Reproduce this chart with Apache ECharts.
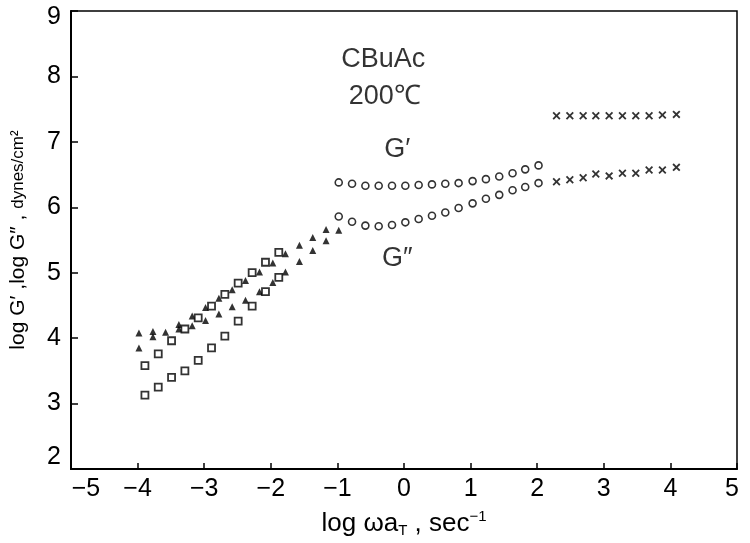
<!DOCTYPE html>
<html>
<head>
<meta charset="utf-8">
<script src="https://cdn.jsdelivr.net/npm/echarts@6/dist/echarts.min.js"></script>
<style>html,body{margin:0;padding:0;background:#fff}#c{width:750px;height:543px}</style>
</head>
<body>
<div id="c"></div>
<script>
// ---- data (log ωaT, log G) ----
const xTicks = [-5, -4, -3, -2, -1, 0, 1, 2, 3, 4, 5];
const yTicks = [2, 3, 4, 5, 6, 7, 8, 9];

// triangles (two rows)
const triX      = [-3.98, -3.77, -3.58, -3.38, -3.18, -2.98, -2.78, -2.58, -2.38, -2.17, -1.97, -1.78, -1.57, -1.37, -1.17];
const triUpperY = [4.08, 4.10, 4.09, 4.21, 4.34, 4.47, 4.61, 4.74, 4.88, 5.01, 5.15, 5.29, 5.42, 5.54, 5.66];
const triLowX   = [-3.98, -3.77, -3.38, -3.18, -2.98, -2.78, -2.58, -2.38, -2.17, -1.97, -1.78, -1.57, -1.37, -1.17, -0.98];
const triLowerY = [3.85, 4.02, 4.14, 4.19, 4.27, 4.37, 4.48, 4.58, 4.71, 4.85, 5.01, 5.17, 5.34, 5.49, 5.65];

// squares (two rows)
const sqX      = [-3.89, -3.69, -3.49, -3.29, -3.09, -2.89, -2.69, -2.49, -2.28, -2.08, -1.88];
const sqUpperY = [3.58, 3.76, 3.96, 4.14, 4.31, 4.49, 4.67, 4.84, 5.00, 5.16, 5.31];
const sqLowerY = [3.13, 3.25, 3.40, 3.50, 3.66, 3.85, 4.03, 4.26, 4.49, 4.71, 4.93];

// circles (G' upper, G'' lower)
const circX      = [-0.98, -0.78, -0.58, -0.38, -0.18, 0.02, 0.22, 0.42, 0.62, 0.82, 1.03, 1.23, 1.43, 1.63, 1.82, 2.02];
const circUpperY = [6.38, 6.36, 6.33, 6.33, 6.33, 6.33, 6.34, 6.35, 6.36, 6.37, 6.40, 6.43, 6.47, 6.52, 6.58, 6.64];
const circLowerY = [5.86, 5.78, 5.72, 5.71, 5.73, 5.77, 5.82, 5.87, 5.92, 5.99, 6.06, 6.13, 6.19, 6.26, 6.31, 6.37];

// crosses
const crossX      = [2.29, 2.49, 2.69, 2.88, 3.08, 3.28, 3.48, 3.68, 3.88, 4.09];
const crossUpperY = [7.40, 7.40, 7.40, 7.40, 7.40, 7.40, 7.40, 7.40, 7.41, 7.42];
const crossLowerY = [6.39, 6.42, 6.45, 6.51, 6.48, 6.52, 6.52, 6.57, 6.57, 6.61];

// text annotations (data coordinates)
const noteText = ['CBuAc', '200℃', 'G′', 'G″'];
const noteX = [-0.31, -0.29, -0.10, -0.10];
const noteY = [8.26, 7.69, 6.88, 5.22];

// ---- chart ----
const zip = (xs, ys) => xs.map((x, i) => [x, ys[i]]);
const FONT = 'Liberation Sans';
const crossPath = 'path://M0,1.6L1.6,0L5,3.4L8.4,0L10,1.6L6.6,5L10,8.4L8.4,10L5,6.6L1.6,10L0,8.4L3.4,5Z';

const triStyle = {symbol: 'triangle', symbolSize: 7, itemStyle: {color: '#000'}};
const sqStyle = {symbol: 'rect', symbolSize: 7, itemStyle: {color: '#fff', borderColor: '#000', borderWidth: 1.8}};
const circStyle = {symbol: 'circle', symbolSize: 7, itemStyle: {color: '#fff', borderColor: '#000', borderWidth: 1.6}};
const crossStyle = {symbol: crossPath, symbolSize: 8, itemStyle: {color: '#000'}};

const tickRich = {
  n: {fontFamily: FONT, fontSize: 25, color: '#000'},
  lo: {fontFamily: FONT, fontSize: 25, color: '#000', padding: [0, 0, 0, 30]},
  hi: {fontFamily: FONT, fontSize: 25, color: '#000', padding: [0, 10, 0, 0]},
  up: {fontFamily: FONT, fontSize: 25, color: '#000', padding: [0, 0, 24, 0]},
  dn: {fontFamily: FONT, fontSize: 25, color: '#000', padding: [12, 0, 0, 0]}
};
const fmtNum = v => (v < 0 ? '−' + Math.abs(v) : String(v));

const chart = echarts.init(document.getElementById('c'), null, {renderer: 'canvas'});
chart.setOption({
  animation: false,
  backgroundColor: '#fff',
  textStyle: {fontFamily: FONT, color: '#000'},
  grid: {left: 66, right: 13, top: 11, bottom: 67, show: true, borderColor: '#000', borderWidth: 1.5},
  xAxis: {
    type: 'value', min: xTicks[0], max: xTicks[xTicks.length - 1], interval: 1,
    axisLine: {show: true, onZero: false, lineStyle: {color: '#000', width: 2}},
    axisTick: {show: true, inside: true, length: 6, lineStyle: {color: '#000', width: 1.5}},
    splitLine: {show: false},
    axisLabel: {
      margin: 8, rich: tickRich,
      formatter: v => {
        if (v === xTicks[0]) return '{lo|' + fmtNum(v) + '}';
        if (v === xTicks[xTicks.length - 1]) return '{hi|' + fmtNum(v) + '}';
        return '{n|' + fmtNum(v) + '}';
      }
    },
    name: '{a|log ωa}{s|T}{a| , sec}{p|−1}',
    nameLocation: 'middle', nameGap: 40,
    nameTextStyle: {
      rich: {
        a: {fontFamily: FONT, fontSize: 26, color: '#000'},
        s: {fontFamily: FONT, fontSize: 15, color: '#000', verticalAlign: 'bottom', padding: [14, 0, 0, 0]},
        p: {fontFamily: FONT, fontSize: 15, color: '#000', verticalAlign: 'top', padding: [0, 0, 14, 0]}
      }
    }
  },
  yAxis: {
    type: 'value', min: yTicks[0], max: yTicks[yTicks.length - 1], interval: 1,
    axisLine: {show: true, onZero: false, lineStyle: {color: '#000', width: 2}},
    axisTick: {show: true, inside: true, length: 7, lineStyle: {color: '#000', width: 1.5}},
    splitLine: {show: false},
    axisLabel: {
      margin: 10, rich: tickRich,
      formatter: v => {
        if (v === yTicks[0]) return '{up|' + v + '}';
        if (v === yTicks[yTicks.length - 1]) return '{dn|' + v + '}';
        return '{n|' + v + '}';
      }
    },
    name: '{a|log G′ ,log G″ , }{b|dynes/cm²}',
    nameLocation: 'middle', nameGap: 42, nameRotate: 90,
    nameTextStyle: {
      rich: {
        a: {fontFamily: FONT, fontSize: 21, color: '#000'},
        b: {fontFamily: FONT, fontSize: 17, color: '#000'}
      }
    }
  },
  series: [
    Object.assign({type: 'scatter', name: 'tri-upper', data: zip(triX, triUpperY)}, triStyle),
    Object.assign({type: 'scatter', name: 'tri-lower', data: zip(triLowX, triLowerY)}, triStyle),
    Object.assign({type: 'scatter', name: 'sq-upper', data: zip(sqX, sqUpperY)}, sqStyle),
    Object.assign({type: 'scatter', name: 'sq-lower', data: zip(sqX, sqLowerY)}, sqStyle),
    Object.assign({type: 'scatter', name: 'circ-upper', data: zip(circX, circUpperY)}, circStyle),
    Object.assign({type: 'scatter', name: 'circ-lower', data: zip(circX, circLowerY)}, circStyle),
    Object.assign({type: 'scatter', name: 'cross-upper', data: zip(crossX, crossUpperY)}, crossStyle),
    Object.assign({type: 'scatter', name: 'cross-lower', data: zip(crossX, crossLowerY)}, crossStyle),
    {
      type: 'scatter', name: 'notes', symbolSize: 0, silent: true,
      data: noteText.map((t, i) => ({value: [noteX[i], noteY[i]], name: t})),
      label: {show: true, position: 'inside', formatter: p => p.name,
        fontFamily: FONT, fontSize: 27, color: '#000'}
    }
  ]
});
</script>
</body>
</html>
